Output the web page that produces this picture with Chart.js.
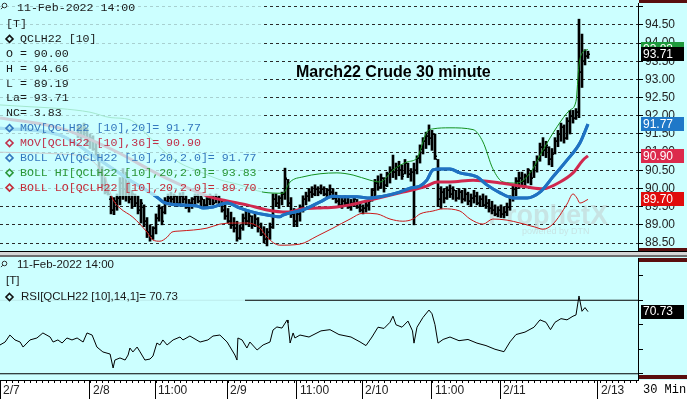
<!DOCTYPE html>
<html><head><meta charset="utf-8">
<script src="https://cdn.jsdelivr.net/npm/chart.js@4.4.1/dist/chart.umd.min.js"></script>
<style>
html,body{margin:0;padding:0;}
body{width:687px;height:399px;overflow:hidden;position:relative;background:#CCFFFF;}
canvas{position:absolute;left:0;}
.d{position:absolute;}
</style></head><body>
<div class="d" style="left:0;top:380px;width:687px;height:19px;background:#FFFFFF"></div>
<div class="d" style="left:0;top:251px;width:687px;height:1px;background:#000"></div>
<div class="d" style="left:0;top:252px;width:687px;height:3px;background:#D6D6D6"></div>
<div class="d" style="left:0;top:255px;width:687px;height:2px;background:#6E6E6E"></div>
<canvas id="c1" width="687" height="251" style="top:0"></canvas>
<canvas id="c2" width="687" height="141" style="top:258px"></canvas>
<div class="d" style="left:639px;top:0;width:48px;height:3px;background:#5A0E0E"></div>
<div class="d" style="left:639px;top:248px;width:48px;height:3px;background:#5A0E0E"></div>
<div class="d" style="left:639px;top:258px;width:48px;height:4px;background:#5A0E0E"></div>
<div class="d" style="left:639px;top:375px;width:48px;height:4px;background:#5A0E0E"></div>
<div class="d" style="left:643px;top:383px;font:12px 'Liberation Mono',monospace;color:#000;">30 Min</div>
<script>
Chart.defaults.font.family = '"Liberation Sans", Arial, sans-serif';

// ---------- data ----------
const xMax = 212.67;           // bar-slot units across the plot
const barStart = 26;           // slot of first visible bar
const highs = [
91.75,91.70,91.80,91.65,91.50,91.45,91.30,90.95,90.60,90.30,
90.10,89.80,89.75,89.85,90.30,90.55,90.45,90.20,89.95,89.85,
89.80,89.70,89.55,89.20,89.00,88.95,89.30,89.55,89.50,89.75,
89.85,89.90,89.85,89.80,89.88,89.90,89.80,89.70,89.75,89.85,
89.85,89.80,89.70,89.75,89.85,89.80,89.85,89.80,89.70,89.55,
89.45,89.35,89.20,89.10,89.00,89.30,89.40,89.35,89.25,89.30,
89.20,89.05,88.95,88.90,89.05,89.85,89.85,89.80,89.90,90.56,
90.25,89.75,89.45,89.40,89.55,89.80,89.90,90.00,90.05,90.10,
90.05,90.10,90.05,90.00,90.10,90.00,89.90,89.80,89.75,89.80,
89.75,89.70,89.75,89.70,89.60,89.55,89.65,89.70,90.00,90.25,
90.35,90.40,90.30,90.45,90.60,90.92,90.70,90.75,90.65,90.80,
90.70,90.55,90.70,90.90,91.20,91.40,91.55,91.75,91.60,91.50,
90.80,90.05,90.00,90.05,90.10,90.05,89.95,90.00,89.95,90.00,
89.90,89.85,89.95,89.90,89.80,89.85,89.80,89.70,89.65,89.55,
89.50,89.55,89.50,89.60,89.80,90.10,90.30,90.45,90.45,90.40,
90.55,90.50,90.75,90.90,91.25,91.40,91.30,91.15,91.10,91.40,
91.60,91.80,91.75,91.95,92.15,92.15,92.20,94.66,94.25,93.82,93.78];
const lows = [
91.40,91.35,91.45,91.20,91.10,91.05,90.80,90.35,90.05,89.85,
89.82,89.30,89.28,89.40,89.55,89.70,89.65,89.60,89.45,89.50,
89.30,89.05,88.95,88.65,88.55,88.60,88.75,89.10,89.00,89.30,
89.55,89.60,89.55,89.50,89.58,89.60,89.45,89.35,89.45,89.55,
89.60,89.50,89.45,89.50,89.55,89.55,89.60,89.50,89.35,89.15,
89.05,88.90,88.80,88.55,88.60,88.85,89.00,88.95,88.90,88.95,
88.80,88.70,88.50,88.42,88.60,88.90,89.50,89.45,89.55,89.70,
89.50,89.20,88.95,88.95,89.10,89.35,89.55,89.65,89.75,89.80,
89.80,89.85,89.80,89.75,89.80,89.70,89.60,89.50,89.45,89.50,
89.45,89.40,89.50,89.45,89.35,89.30,89.35,89.40,89.65,89.80,
89.95,90.00,89.90,90.05,90.15,90.30,90.25,90.35,90.25,90.40,
90.30,90.20,89.00,90.40,90.70,90.95,91.10,91.20,91.05,90.80,
89.50,89.45,89.60,89.70,89.75,89.70,89.65,89.70,89.60,89.65,
89.55,89.50,89.60,89.55,89.50,89.50,89.45,89.35,89.30,89.25,
89.22,89.20,89.19,89.25,89.40,89.65,89.80,90.00,90.10,90.05,
90.15,90.10,90.30,90.45,90.75,90.90,90.85,90.65,90.60,90.95,
91.15,91.30,91.25,91.35,91.50,91.80,91.90,91.95,92.78,93.40,93.58];
const opens = [
91.50,91.65,91.45,91.60,91.30,91.40,91.10,90.85,90.45,90.10,
89.90,89.70,89.40,89.65,89.75,90.15,90.00,90.15,89.70,89.85,
89.60,89.40,89.50,89.10,88.80,88.70,88.90,89.20,89.45,89.35,
89.65,89.75,89.70,89.80,89.60,89.80,89.70,89.50,89.60,89.70,
89.80,89.65,89.70,89.55,89.70,89.80,89.60,89.75,89.55,89.40,
89.25,89.10,89.00,88.90,88.65,88.90,89.20,89.10,89.25,89.00,
89.15,88.90,88.75,88.60,88.80,88.95,89.70,89.60,89.75,89.85,
90.25,89.60,89.30,89.10,89.30,89.45,89.70,89.80,89.90,89.85,
90.00,89.90,90.00,89.85,89.95,89.90,89.75,89.65,89.55,89.65,
89.60,89.50,89.60,89.70,89.50,89.40,89.45,89.55,89.65,89.95,
90.15,90.05,90.30,90.10,90.40,90.50,90.45,90.60,90.50,90.40,
90.70,90.40,90.45,90.50,90.85,91.10,91.30,91.45,91.40,91.50,
90.80,89.70,89.90,89.75,89.95,89.85,89.95,89.75,89.90,89.70,
89.85,89.65,89.75,89.80,89.60,89.70,89.55,89.60,89.45,89.40,
89.30,89.40,89.30,89.35,89.50,89.75,90.00,90.20,90.30,90.20,
90.35,90.50,90.30,90.65,90.80,91.15,91.05,91.15,90.80,90.95,
91.30,91.50,91.70,91.40,91.85,92.00,91.95,92.10,93.20,93.50,93.65];
const closes = [
91.65,91.45,91.70,91.30,91.40,91.10,90.85,90.45,90.10,89.90,
89.85,89.40,89.65,89.75,90.15,90.00,90.30,89.70,89.85,89.60,
89.40,89.60,89.10,88.80,88.70,88.90,89.20,89.45,89.10,89.65,
89.75,89.70,89.80,89.55,89.80,89.70,89.50,89.60,89.70,89.80,
89.65,89.75,89.55,89.70,89.80,89.60,89.75,89.55,89.40,89.25,
89.10,89.00,88.90,88.65,88.90,89.20,89.10,89.25,89.00,89.15,
88.90,88.75,88.60,88.80,88.95,89.70,89.60,89.75,89.85,90.30,
89.60,89.30,89.10,89.30,89.45,89.70,89.80,89.90,89.85,90.00,
89.90,90.00,89.85,89.95,89.90,89.75,89.65,89.55,89.65,89.60,
89.50,89.60,89.70,89.50,89.40,89.45,89.55,89.65,89.95,90.15,
90.05,90.30,90.10,90.40,90.50,90.45,90.60,90.50,90.35,90.70,
90.40,90.45,90.50,90.85,91.10,91.30,91.45,91.40,91.50,90.90,
89.70,89.90,89.75,89.95,89.85,89.95,89.75,89.90,89.70,89.85,
89.65,89.75,89.80,89.60,89.70,89.55,89.60,89.45,89.40,89.30,
89.40,89.30,89.35,89.50,89.75,90.00,90.20,90.30,90.20,90.35,
90.50,90.30,90.65,90.80,91.15,91.05,91.20,90.80,90.95,91.30,
91.50,91.70,91.40,91.85,92.00,91.95,92.10,93.20,93.50,93.65,93.71];

const ma20X = [0,20,33.3,43.3,52.7,54.3,59,65.7,67.7,71,75.7,80,84.3,89,93.3,94.3,101,106.7,111,114.3,119,123.3,127.7,132.3,136.7,140,142.3,144.3,146.7,150,153.3,159,162.3,166.7,171,175.7,180,184.3,189,193.3,196];
const ma20Y = [91.66,91.47,90.78,90.23,89.74,89.63,89.55,89.52,89.46,89.49,89.60,89.46,89.35,89.27,89.22,89.27,89.41,89.63,89.79,89.77,89.77,89.74,89.79,89.88,90.01,90.07,90.23,90.51,90.54,90.54,90.43,90.32,90.10,89.88,89.74,89.74,89.90,90.32,90.78,91.25,91.77];
const ma36X = [0,20,37.7,53.3,70,75.7,82.3,89,95.7,101,105.7,112.3,116.7,123.3,134.3,142.3,145.7,150,157.7,166.7,175.7,181,186.7,191,194.3,196];
const ma36Y = [91.94,91.66,91.06,90.37,89.77,89.66,89.55,89.41,89.35,89.44,89.46,89.49,89.55,89.68,89.90,90.07,90.18,90.18,90.23,90.15,90.04,89.99,90.18,90.43,90.78,90.90];
const bollHiX = [0,10,20,30,37,43,50,55,60,67,73,80,87.7,94.3,96.7,101,112.3,117.7,123.3,126.7,131,135.7,139,142.3,144.3,150,157.7,161,164.3,167.7,172.3,176.7,181,185.7,190,192,193,194,196];
const bollHiY = [92.30,92.25,92.20,92.10,91.95,91.90,91.40,91.00,90.70,90.45,90.25,90.10,89.90,89.87,90.18,90.32,90.43,90.37,90.23,90.18,90.51,90.73,90.84,91.56,91.64,91.67,91.62,91.28,90.54,90.18,90.15,90.43,91.06,91.70,92.16,92.40,93.40,93.72,93.83];
const bollLoX = [0,20,30,35,37.7,40,44.3,49,51,53.3,55.7,57.3,60,69,73.3,77.7,82.3,86.7,89,93.3,100,105.7,111,116.7,121,125.7,130,134.3,137.7,140,144.3,147.7,153.3,156.7,161,164.3,169,173.3,178.3,181,184.3,189,191,192.3,193.3,196];
const bollLoY = [91.00,90.95,90.80,90.30,89.69,89.46,89.21,88.80,88.58,88.55,88.66,88.80,88.83,88.91,89.02,89.05,89.05,88.91,88.66,88.44,88.47,88.69,88.91,89.16,89.32,89.30,89.16,89.10,89.16,89.30,89.38,89.44,89.38,89.16,89.02,89.16,89.13,89.05,88.94,88.88,89.02,89.57,89.85,89.74,89.60,89.70];

const rsiX = [0,1.7,3.3,5,6.7,7.7,10,12.3,14.3,16.7,17.7,19.3,20.7,22.3,24,25.7,27.7,29,30.7,32.3,34.3,36.7,37.7,38.3,40,41.7,42.7,43.3,44.3,45.7,46.7,48.3,50,51,52.3,53.3,54.3,55.7,57.7,60,61,63.3,66.7,69.3,71,73.3,75.7,77.3,78.3,79,79.3,80.7,82.3,83.3,85.7,87.7,90,91,92.3,94,95.7,96,96.7,97.7,98.3,100,
103,107,110,113,117,120,122,124,126,128,130,131,132,134,136,137.5,138,139,141,143,144,145,146,147.7,150,153,156,159,162,165,168,170,172,175,178,180,182,183.5,185,187,189,191,192,193,194,195,196];
const rsiY = [43.5,45.9,51.6,47.6,45.9,41.8,47.6,49.2,53.3,50.0,45.9,47.6,45.1,49.2,47.6,49.2,45.9,53.3,51.6,41.8,37.8,36.1,24.7,31.2,32.9,31.2,35.3,41.0,37.8,41.8,37.8,31.2,32.0,34.5,45.1,43.5,47.6,43.5,47.6,50.0,47.6,50.8,45.9,47.6,50.8,51.6,45.9,39.4,35.3,31.2,49.2,47.6,41.0,45.9,39.4,43.5,45.9,55.7,58.2,57.3,63.9,61.4,45.1,53.3,49.2,51.6,
50,55,56,52,50,46,43,50,58,57,62,67,60,58,63,55,45,58,66,72,69,60,45,48,50,47,48,45,43,40,38,46,52,54,58,64,62,56,62,65,64,67,68,83.5,71,74,70.73];
const rsiLevels = [80, 20];

const priceTicks = [88.5,89.0,89.5,90.0,90.5,91.0,91.5,92.0,92.5,93.0,93.5,94.0,94.5,95.0];
const rsiTicks = [20,30,40,50,60,70,80,90,100,110];
const rsiLabelled = [30,50,70,90];
const xTickPos = [0,30,51.7,75.7,99,120.7,144,166.7,199.3];
const xTickLabels = ['2/7','2/8','11:00','2/9','11:00','2/10','11:00','2/11','2/13'];
const statNames = ['O = ','H = ','L = ','La= ','NC= '];
const statValues = [90.00,94.66,89.19,93.71,3.83];
const stamp = '11-Feb-2022 14:00';
const symbol = 'QCLH22 [10]';
const title = 'March22 Crude 30 minute';

// ---------- colours ----------
const COL = {ma20:'#1F72C2', ma36:'#D0284E', hi:'#12901E', lo:'#CC1818',
  ma20Txt:'#3478BE', ma36Txt:'#C0304A', hiTxt:'#2A9636', loTxt:'#C42C38', txt:'#1A1A1A'};

const last = a => a[a.length-1];
const pts = (xs, ys) => xs.map((x,k)=>({x, y: ys[k]}));
const noPadV = s => { s.paddingTop = 0; s.paddingBottom = 0; };

function diamond(ctx, cx, cy, color){
  ctx.save(); ctx.strokeStyle=color; ctx.lineWidth=1.6;
  ctx.beginPath(); ctx.moveTo(cx, cy-3.5); ctx.lineTo(cx+3.5, cy); ctx.lineTo(cx, cy+3.5); ctx.lineTo(cx-3.5, cy); ctx.closePath(); ctx.stroke();
  ctx.restore();
}
function magnifier(ctx, cx, cy){
  ctx.save(); ctx.strokeStyle='#333'; ctx.lineWidth=1;
  ctx.beginPath(); ctx.arc(cx, cy, 2.3, 0, Math.PI*2); ctx.stroke();
  ctx.beginPath(); ctx.moveTo(cx-1.7, cy+1.7); ctx.lineTo(cx-3.6, cy+3.6); ctx.stroke();
  ctx.restore();
}
function valueBox(ctx, scale, val, bg, fg){
  const y = scale.getPixelForValue(val);
  ctx.fillStyle = bg; ctx.fillRect(641, Math.round(y-7), 43, 14);
  ctx.fillStyle = fg; ctx.font = '12px "Liberation Sans"'; ctx.textBaseline='middle'; ctx.textAlign='left';
  ctx.fillText(val.toFixed(2), 643, y+0.5);
}

// ---------- plugins for price chart ----------
const watermark = {
  id:'watermark',
  beforeDatasetsDraw(chart){
    const ctx = chart.ctx; ctx.save();
    ctx.fillStyle='rgba(196,214,214,0.65)';
    ctx.font='bold 27px "Liberation Sans"'; ctx.textBaseline='alphabetic';
    ctx.fillText('ProphetX', 488, 224);
    ctx.font='9px "Liberation Sans"';
    ctx.fillText('powered by DTN', 522, 234);
    ctx.restore();
  }
};
const ohlcTicks = {
  id:'ohlcTicks',
  afterDatasetDraw(chart, args){
    if (chart.data.datasets[args.index].label !== 'QCLH22') return;
    const {ctx, scales:{x, y}} = chart;
    ctx.save(); ctx.fillStyle='#000';
    for (let k=0;k<highs.length;k++){
      const px = Math.round(x.getPixelForValue(barStart+k));
      ctx.fillRect(px-2, Math.round(y.getPixelForValue(opens[k]))-0.5, 1, 1.5);
      ctx.fillRect(px+1, Math.round(y.getPixelForValue(closes[k]))-0.5, 1, 1.5);
    }
    ctx.restore();
  }
};
const legend1 = {
  id:'legend1',
  afterDatasetsDraw(chart){
    const ctx = chart.ctx; ctx.save();
    ctx.fillStyle='rgba(204,255,255,0.78)';
    ctx.fillRect(0,0,262,196);
    ctx.font='11.6px "Liberation Mono", monospace'; ctx.textBaseline='middle'; ctx.textAlign='left';
    const rowY = k => 24 + 14.88*k;
    magnifier(ctx, 4.5, 5.5);
    ctx.fillStyle=COL.txt; ctx.fillText(stamp, 17, 7.5);
    ctx.fillText('[T]', 6, rowY(0));
    diamond(ctx, 9.5, rowY(1), '#111'); ctx.fillStyle=COL.txt; ctx.fillText(symbol, 20, rowY(1));
    statNames.forEach((n,k)=>{ ctx.fillStyle=COL.txt; ctx.fillText(n + statValues[k].toFixed(2), 6, rowY(2+k)); });
    const ind = [
      ['MOV[QCLH22 [10],20]= ' + last(ma20Y).toFixed(2), COL.ma20Txt],
      ['MOV[QCLH22 [10],36]= ' + last(ma36Y).toFixed(2), COL.ma36Txt],
      ['BOLL AV[QCLH22 [10],20,2.0]= ' + last(ma20Y).toFixed(2), COL.ma20Txt],
      ['BOLL HI[QCLH22 [10],20,2.0]= ' + last(bollHiY).toFixed(2), COL.hiTxt],
      ['BOLL LO[QCLH22 [10],20,2.0]= ' + last(bollLoY).toFixed(2), COL.loTxt]
    ];
    ind.forEach((r,k)=>{ const y=rowY(7+k); diamond(ctx, 9.5, y, r[1]); ctx.fillStyle=r[1]; ctx.fillText(r[0], 20, y); });
    ctx.fillStyle='#000'; ctx.font='bold 16px "Liberation Sans"';
    ctx.fillText(title, 296, 73);
    ctx.restore();
  }
};
const boxes1 = {
  id:'boxes1',
  afterDraw(chart){
    const ctx = chart.ctx, y = chart.scales.y; ctx.save();
    valueBox(ctx, y, last(bollHiY), '#1E9A3C', '#fff');
    valueBox(ctx, y, last(closes), '#000', '#fff');
    valueBox(ctx, y, last(ma20Y), '#1F78C8', '#fff');
    valueBox(ctx, y, last(ma36Y), '#DC2A4C', '#fff');
    valueBox(ctx, y, last(bollLoY), '#E00C0C', '#fff');
    ctx.restore();
  }
};

const lineDs = (label, xs, ys, color, w, order) => ({type:'line', label, data: pts(xs, ys), borderColor: color, borderWidth: w,
  pointRadius:0, cubicInterpolationMode:'monotone', fill:false, order});

new Chart(document.getElementById('c1'), {
  type:'line',
  data:{ datasets:[
    lineDs('MOV20', ma20X, ma20Y, COL.ma20, 3, 1),
    lineDs('BOLL AV', ma20X, ma20Y, COL.ma20, 3, 1),
    lineDs('MOV36', ma36X, ma36Y, COL.ma36, 3, 2),
    lineDs('BOLL HI', bollHiX, bollHiY, COL.hi, 1, 3),
    lineDs('BOLL LO', bollLoX, bollLoY, COL.lo, 1, 3),
    {type:'bar', label:'QCLH22', data: highs.map((h,k)=>({x: barStart+k, y:[lows[k], h]})),
     backgroundColor:'#000', borderWidth:0, barThickness:2, order:10}
  ]},
  options:{
    responsive:false, animation:false, devicePixelRatio:1,
    layout:{padding:{top:3,left:0,right:0,bottom:0}},
    plugins:{legend:{display:false}, tooltip:{enabled:false}},
    scales:{
      x:{type:'linear', min:0, max:xMax, display:false, offset:false},
      y:{position:'right', min:88.28, max:95.105, z:1,
         afterFit: s => { s.width = 49; noPadV(s); },
         afterBuildTicks: s => { s.ticks = priceTicks.map(v=>({value:v})); },
         ticks:{color:'#222', font:{size:12}, padding:2, callback: v => v >= 95 ? '' : Number(v).toFixed(2)},
         grid:{color:'#2a2a2a', lineWidth:1, drawTicks:true, tickLength:5, tickColor:'#000', tickBorderDash:[]},
         border:{display:true, color:'#000', width:1, dash:[3,3]}}
    }
  },
  plugins:[watermark, ohlcTicks, legend1, boxes1]
});

// ---------- RSI chart ----------
const legend2 = {
  id:'legend2',
  afterDatasetsDraw(chart){
    const ctx = chart.ctx; ctx.save();
    ctx.fillStyle='rgba(204,255,255,0.92)'; ctx.fillRect(0,0,245,47);
    ctx.font='11.5px "Liberation Sans"'; ctx.textBaseline='middle'; ctx.fillStyle=COL.txt;
    magnifier(ctx, 4.5, 5.5);
    ctx.fillText(stamp, 17, 7);
    ctx.fillText('[T]', 6, 23);
    diamond(ctx, 9.5, 39, '#111'); ctx.fillStyle=COL.txt;
    ctx.fillText('RSI[QCLH22 [10],14,1]= ' + last(rsiY).toFixed(2), 21, 39);
    ctx.restore();
  }
};
const extras2 = {
  id:'extras2',
  afterDraw(chart){
    const ctx = chart.ctx, x = chart.scales.x, a = chart.chartArea; ctx.save();
    ctx.fillStyle='#000';
    for (let v=0; v<=xMax; v+=2){ const px=Math.round(x.getPixelForValue(v)); ctx.fillRect(px, a.bottom, 1, 3); }
    valueBox(ctx, chart.scales.y, last(rsiY), '#000', '#fff');
    ctx.restore();
  }
};
new Chart(document.getElementById('c2'), {
  type:'line',
  data:{ datasets:[
    {label:'RSI', data: pts(rsiX, rsiY), borderColor:'#000', borderWidth:1, pointRadius:0, tension:0, fill:false},
    ...rsiLevels.map(l => ({label:'lvl'+l, data:[{x:0,y:l},{x:xMax,y:l}], borderColor:'#000', borderWidth:1, pointRadius:0}))
  ]},
  options:{
    responsive:false, animation:false, devicePixelRatio:1,
    layout:{padding:0},
    plugins:{legend:{display:false}, tooltip:{enabled:false}},
    scales:{
      x:{type:'linear', min:0, max:xMax, position:'bottom', offset:false,
         afterFit: s => { s.height = 19; s.paddingLeft = 0; s.paddingRight = 0; },
         afterBuildTicks: s => { s.ticks = xTickPos.map(v=>({value:v})); },
         ticks:{autoSkip:false, maxRotation:0, minRotation:0, align:'start', labelOffset:3, padding:-16, color:'#222', font:{size:12},
                callback:(v,i)=>xTickLabels[i]},
         grid:{drawOnChartArea:false, drawTicks:true, tickLength:19, color:'#000'},
         border:{display:true, color:'#000', width:1}},
      y:{position:'right', min:14.9, max:114.5,
         afterFit: s => { s.width = 49; noPadV(s); },
         afterBuildTicks: s => { s.ticks = rsiTicks.map(v=>({value:v})); },
         ticks:{color:'#222', font:{size:12}, padding:2, callback: v => rsiLabelled.includes(v) ? Number(v).toFixed(2) : ''},
         grid:{drawOnChartArea:false, drawTicks:true, tickLength:5, color:'#000'},
         border:{display:true, color:'#000', width:1}}
    }
  },
  plugins:[legend2, extras2]
});
</script>
</body></html>
